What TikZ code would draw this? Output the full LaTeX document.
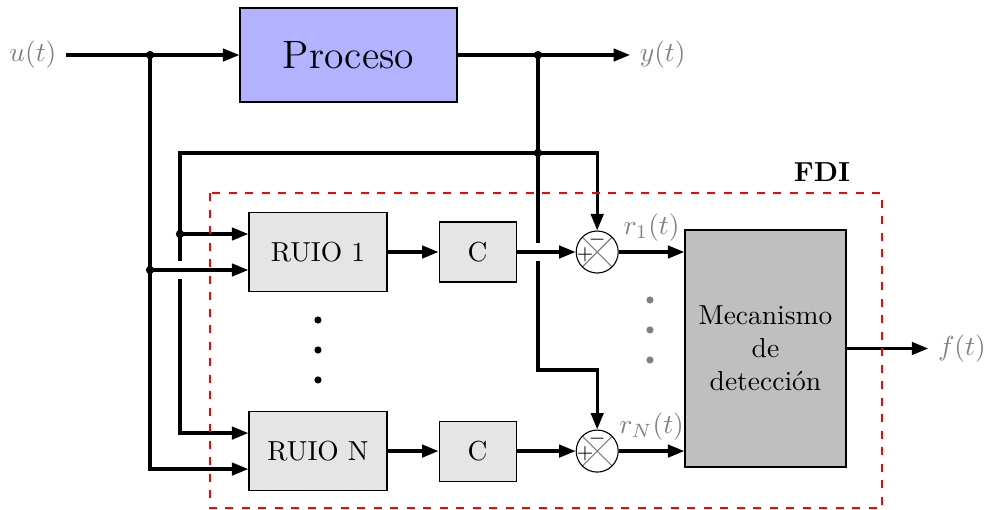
\documentclass[tikz,border=0pt]{standalone}
\usepackage{fontspec}
\usepackage{tikz}
\usetikzlibrary{arrows.meta,positioning}

\begin{document}
\begin{tikzpicture}[
  ln/.style={very thick},
  arr/.style={ln, -{Triangle[length=6pt,width=4.5pt]}},
  lbl/.style={text=gray},
  blk/.style={draw, thin, fill=gray!20, minimum width=1.764cm, minimum height=1.01cm},
  cblk/.style={draw, thin, fill=gray!20, minimum width=0.984cm, minimum height=0.767cm},
  proc/.style={draw, thin, fill=blue!30, minimum width=2.773cm, minimum height=1.201cm, font=\Large},
  mec/.style={draw, thin, fill=gray!50, minimum width=2.058cm, minimum height=3.029cm, align=center},
  sgn/.style={font=\scriptsize, inner sep=0pt},
  sum/.style={draw, thin, circle, fill=white, minimum size=0.537cm, inner sep=0pt,
    path picture={
      \draw[gray] (path picture bounding box.north west) -- (path picture bounding box.south east)
        (path picture bounding box.north east) -- (path picture bounding box.south west);
    },
    label={[sgn, xshift=-0.155cm, yshift=-0.03cm]center:$+$},
    label={[sgn, yshift=0.16cm]center:$-$}}]
\useasboundingbox (0,0) rectangle (12.64,-6.518);

% bloques
\node[lbl] (u) at (0.42,-0.703) {$u(t)$};
\node[proc] (proc) at (4.454,-0.703) {Proceso};
\node[lbl] (y) at (8.47,-0.703) {$y(t)$};
\node[blk] (ruio1) at (4.064,-3.221) {RUIO 1};
\node[blk, below=1.52cm of ruio1] (ruioN) {RUIO N};
\node[cblk, right=0.652cm of ruio1] (c1) {C};
\node[cblk, right=0.652cm of ruioN] (cN) {C};
\node[sum, right=0.754cm of c1] (sum1) {};
\node[sum, right=0.754cm of cN] (sumN) {};
\node[mec] (mec) at (9.783,-4.454) {Mecanismo\\de\\detección};
\node[lbl] (f) at (12.294,-4.454) {$f(t)$};

% puntos de conexion
\coordinate (ju) at (1.917,-0.703);
\coordinate (jy) at (6.876,-0.703);
\coordinate (jt) at (6.876,-1.955);
\coordinate (bus) at (2.300,-1.955);
\coordinate (ylow) at (6.876,-4.729);
\coordinate (in1a) at ([yshift=0.23cm]ruio1.west);
\coordinate (in1b) at ([yshift=-0.23cm]ruio1.west);
\coordinate (inNa) at ([yshift=0.23cm]ruioN.west);
\coordinate (inNb) at ([yshift=-0.23cm]ruioN.west);
\coordinate (ja) at (ju |- in1b);
\coordinate (jb) at (bus |- in1a);
\coordinate (gb) at (bus |- in1b);
\coordinate (gy) at (jy |- sum1);

% señales
\draw[ln] (u) -- (ju);
\draw[arr] (ju) -- (proc);
\draw[ln] (proc) -- (jy);
\draw[arr] (jy) -- (y);
\draw[arr] (ju) |- (inNb);
\draw[arr] (ja) -- (in1b);
\draw[ln] (jt) -- (bus) -- ([yshift=0.11cm]gb);
\draw[arr] ([yshift=-0.11cm]gb) |- (inNa);
\draw[arr] (jb) -- (in1a);
\draw[arr] (jt) -| (sum1);
\draw[ln] (jy) -- ([yshift=0.115cm]gy);
\draw[arr] ([yshift=-0.115cm]gy) -- (ylow) -| (sumN);
\draw[arr] (ruio1) -- (c1);
\draw[arr] (c1) -- (sum1);
\draw[arr] (ruioN) -- (cN);
\draw[arr] (cN) -- (sumN);
\draw[arr] (sum1) -- (sum1 -| mec.west) node[lbl, midway, above] (r1) {$r_1(t)$};
\draw[arr] (sumN) -- (sumN -| mec.west) node[lbl, midway, above] (rN) {$r_N(t)$};
\draw[arr] (mec) -- (f);

\foreach \pt in {ju,jy,jt,ja,jb} \fill (\pt) circle (1.5pt);
\foreach \yy in {-4.09,-4.473,-4.856} \fill (4.064,\yy) circle (1.3pt);
\foreach \yy in {-3.834,-4.217,-4.601} \fill[gray] (8.307,\yy) circle (1.3pt);

% bloque FDI
\draw[red, dashed, thin] (2.684,-2.467) rectangle (11.272,-6.492);
\node[font=\bfseries] (fdi) at (10.505,-2.198) {FDI};
\end{tikzpicture}
\end{document}
